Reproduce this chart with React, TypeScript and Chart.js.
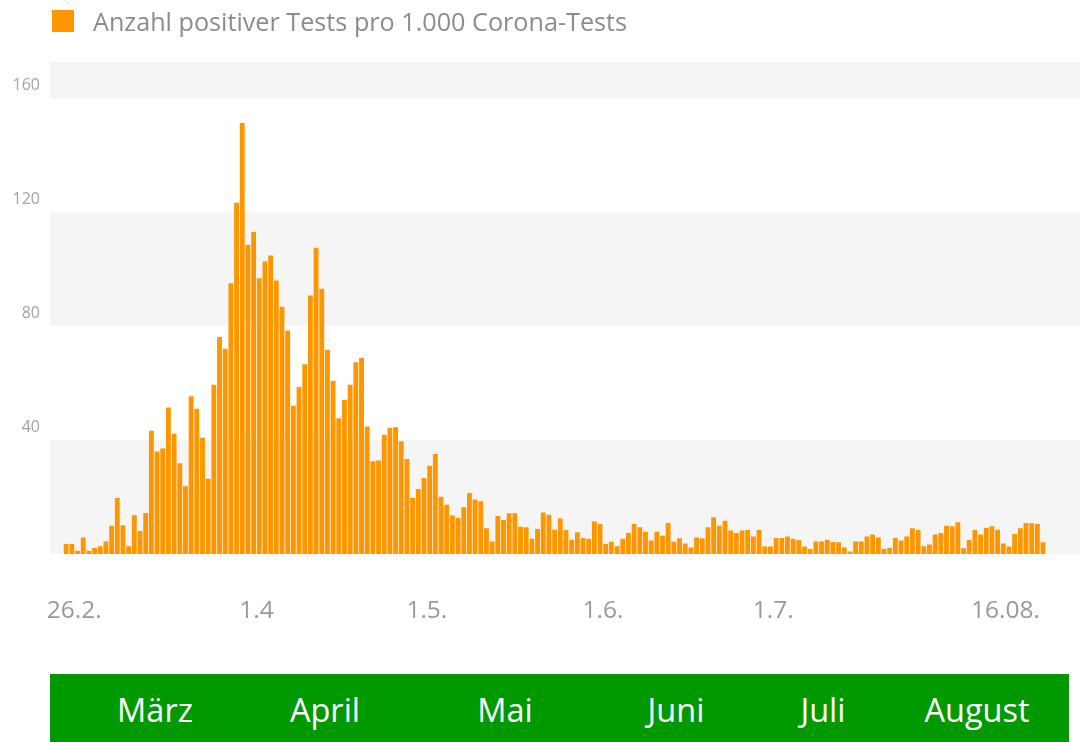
import React, { useEffect, useRef } from 'react';
import { Chart, registerables } from 'chart.js';

Chart.register(...registerables);

// Daily values from 26.02.2020 (index 0) to 16.08.2020 (index 172)
const startDate = '2020-02-26';
const seriesLabel = 'Anzahl positiver Tests pro 1.000 Corona-Tests';
const values: number[] = [
  3.4, 3.4, 1.0, 5.7, 1.0, 2.0, 2.6, 4.3, 9.8, 19.6,
  10.0, 2.6, 13.5, 8.0, 14.3, 43.2, 35.9, 37.0, 51.4, 42.1,
  31.8, 23.7, 55.3, 50.9, 40.7, 26.3, 59.4, 76.1, 72.0, 95.0,
  123.3, 151.3, 108.5, 113.0, 96.8, 102.7, 104.8, 96.0, 86.8, 78.4,
  52.0, 58.6, 66.6, 90.7, 107.5, 93.1, 71.7, 60.8, 47.6, 54.0,
  59.4, 67.3, 68.8, 44.7, 32.5, 32.7, 41.8, 44.2, 44.4, 39.5,
  33.3, 19.6, 22.7, 26.6, 30.9, 35.0, 20.0, 17.2, 13.4, 12.6,
  16.3, 21.3, 19.0, 18.4, 8.9, 4.3, 13.2, 11.8, 14.2, 14.2,
  9.5, 9.3, 5.2, 8.7, 14.5, 13.7, 8.4, 12.4, 8.3, 4.9,
  7.5, 5.5, 5.2, 11.3, 10.4, 3.4, 4.2, 2.6, 5.2, 7.3,
  10.4, 9.3, 7.7, 4.6, 7.7, 6.3, 10.8, 4.2, 5.4, 3.6,
  2.2, 5.7, 5.4, 9.3, 12.8, 9.8, 11.6, 8.1, 7.3, 8.1,
  8.3, 6.0, 8.3, 2.5, 2.5, 5.5, 5.5, 6.0, 5.2, 4.8,
  2.5, 1.6, 4.3, 4.3, 4.9, 4.1, 4.0, 2.2, 0.8, 4.3,
  4.3, 6.0, 6.7, 5.7, 1.6, 2.0, 5.5, 4.6, 6.0, 8.9,
  8.3, 2.6, 3.2, 6.7, 7.3, 9.8, 9.6, 11.0, 1.9, 4.8,
  8.3, 6.7, 9.0, 9.6, 8.4, 3.6, 2.5, 6.9, 8.9, 10.8,
  10.7, 10.4, 4.0,
];

// x tick labels and where they sit (in day-index units)
const xTickLabels = ['26.2.', '1.4', '1.5.', '1.6.', '1.7.', '16.08.'];
const xTickPositions = [1.4, 33.5, 63.5, 94.5, 124.5, 165.4];

const yTicks = [40, 80, 120, 160];
const yBands: [number, number][] = [[0, 40], [80, 120], [160, 173]];

const months = ['März', 'April', 'Mai', 'Juni', 'Juli', 'August'];

// layout (pixels)
const monthCenters = [155, 325, 505, 676, 823, 977];

const FONT = "'Open Sans', 'Noto Sans', sans-serif";
const ORANGE = '#fe9600';
const GREEN = '#009900';

const bandsPlugin = {
  id: 'bands',
  beforeDraw(chart: any) {
    const { ctx, chartArea, scales } = chart;
    const y = scales.y;
    ctx.save();
    ctx.fillStyle = '#f5f5f5';
    for (const [a, b] of yBands) {
      const top = y.getPixelForValue(b);
      const bottom = y.getPixelForValue(a);
      ctx.fillRect(chartArea.left, top, chartArea.right - chartArea.left, bottom - top);
    }
    ctx.restore();
  },
};

export default function App() {
  const canvasRef = useRef<HTMLCanvasElement | null>(null);

  useEffect(() => {
    if (!canvasRef.current) return;
    const chart = new Chart(canvasRef.current, {
      type: 'bar',
      data: {
        datasets: [
          {
            label: seriesLabel,
            data: values.map((v, i) => ({ x: i, y: v })),
            backgroundColor: ORANGE,
            borderWidth: 0,
            barThickness: 4.2,
          },
        ],
      },
      options: {
        animation: false,
        responsive: false,
        maintainAspectRatio: false,
        layout: { padding: { top: 61.7, left: 0, right: 0, bottom: 98 } },
        plugins: {
          legend: { display: false },
          tooltip: { enabled: false },
        },
        scales: {
          x: {
            type: 'linear',
            offset: false,
            clip: false,
            min: -2.85,
            max: 178.5,
            grid: { display: false, drawTicks: false, offset: false },
            border: { display: false },
            afterBuildTicks: (s: any) => {
              s.ticks = xTickPositions.map((v) => ({ value: v }));
            },
            afterFit: (s: any) => {
              s.height = 90;
            },
            ticks: {
              autoSkip: false,
              maxRotation: 0,
              minRotation: 0,
              padding: 42,
              color: '#999999',
              font: { family: FONT, size: 24.5 },
              callback: (_v: any, i: number) => xTickLabels[i],
            },
          },
          y: {
            min: 0,
            max: 173,
            clip: false,
            grid: { display: false, drawTicks: false },
            border: { display: false },
            afterBuildTicks: (s: any) => {
              s.ticks = yTicks.map((v) => ({ value: v }));
            },
            afterFit: (s: any) => {
              s.width = 50;
            },
            ticks: {
              padding: 10,
              labelOffset: -13,
              color: '#a3a3a3',
              font: { family: FONT, size: 16 },
            },
          },
        },
      },
      plugins: [bandsPlugin],
    } as any);
    return () => chart.destroy();
  }, []);

  return (
    <div
      style={{
        position: 'fixed',
        left: 0,
        top: 0,
        width: 1082,
        height: 742,
        background: '#ffffff',
        overflow: 'hidden',
        fontFamily: FONT,
      }}
      data-start={startDate}
    >
      <canvas ref={canvasRef} width={1082} height={742} style={{ position: 'absolute', left: 0, top: 0, display: 'block' }} />
      <div style={{ position: 'absolute', left: 52, top: 10, width: 22, height: 22, background: ORANGE }} />
      <div
        style={{
          position: 'absolute',
          left: 93,
          top: 4,
          fontSize: 25.2,
          lineHeight: '34px',
          color: '#8c8c8c',
          whiteSpace: 'nowrap',
        }}
      >
        {seriesLabel}
      </div>
      <div
        style={{
          position: 'absolute',
          left: 50,
          top: 674,
          width: 1019,
          height: 68,
          background: GREEN,
        }}
      >
        {months.map((m, i) => (
          <span
            key={m}
            style={{
              position: 'absolute',
              left: monthCenters[i] - 50,
              top: 2,
              transform: 'translateX(-50%)',
              fontSize: 32.5,
              lineHeight: '68px',
              color: '#ffffff',
              whiteSpace: 'nowrap',
            }}
          >
            {m}
          </span>
        ))}
      </div>
    </div>
  );
}
